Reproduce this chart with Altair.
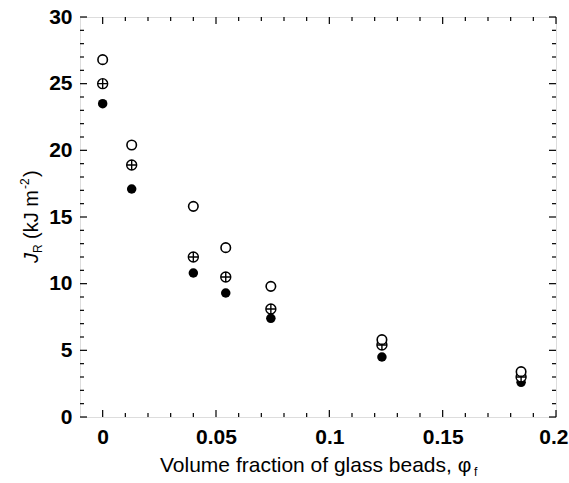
import altair as alt
import pandas as pd

# ---- data ----
phi = [0.0, 0.0128, 0.040, 0.0543, 0.0742, 0.1232, 0.1846]
j_open = [26.8, 20.4, 15.8, 12.7, 9.8, 5.8, 3.4]
j_cross = [25.0, 18.9, 12.0, 10.5, 8.1, 5.4, 3.0]
j_filled = [23.5, 17.1, 10.8, 9.3, 7.4, 4.5, 2.6]

x_major = [0.0, 0.05, 0.1, 0.15, 0.2]
x_minor = [0.01, 0.02, 0.03, 0.04, 0.06, 0.07, 0.08, 0.09, 0.11, 0.12,
           0.13, 0.14, 0.16, 0.17, 0.18, 0.19]
y_major = [0, 5, 10, 15, 20, 25, 30]
y_minor = [1, 2, 3, 4, 6, 7, 8, 9, 11, 12, 13, 14, 16, 17, 18, 19,
           21, 22, 23, 24, 26, 27, 28, 29]

W, H = 476, 400
FONT = "Liberation Sans"
MAJ, MIN = 7, 4

xs = alt.Scale(domain=[-0.01, 0.2], nice=False, zero=False)
ys = alt.Scale(domain=[0, 30], nice=False, zero=False)

x_axis = alt.Axis(values=x_major, format="~g", title=None, ticks=False, domain=False,
                  grid=False, labelFont=FONT, labelFontSize=21, labelFontWeight="bold",
                  labelColor="black", labelPadding=9, labelFlush=True, labelFlushOffset=12)
y_axis = alt.Axis(values=y_major, format="~g", title=None, ticks=False, domain=False,
                  grid=False, labelFont=FONT, labelFontSize=21, labelFontWeight="bold",
                  labelColor="black", labelPadding=8)

def X(field):
    return alt.X(field, type="quantitative", scale=xs, axis=x_axis, title=None)

def Y(field):
    return alt.Y(field, type="quantitative", scale=ys, axis=y_axis, title=None)

df = pd.DataFrame({"phi": phi, "open": j_open, "cross": j_cross, "filled": j_filled})

filled = alt.Chart(df).mark_point(shape="circle", filled=True, color="black", size=90, opacity=1).encode(
    x=X("phi"), y=Y("filled"))

cross_path = "M-1,0A1,1,0,1,1,1,0A1,1,0,1,1,-1,0ZM-1,0L1,0M0,-1L0,1"
cross = alt.Chart(df).mark_point(shape=cross_path, filled=False, fill="white", fillOpacity=1,
                                 stroke="black", strokeWidth=1.4, size=100, opacity=1).encode(
    x=X("phi"), y=Y("cross"))

opn = alt.Chart(df).mark_point(shape="circle", filled=False, fill="white", fillOpacity=1,
                               stroke="black", strokeWidth=1.6, size=90, opacity=1).encode(
    x=X("phi"), y=Y("open"))

def xticks(vals, L):
    d = pd.DataFrame({"phi": vals})
    bot = alt.Chart(d).mark_rule(color="black", strokeWidth=1.2).encode(
        x=X("phi"), y=alt.value(H), y2=alt.value(H - L))
    top = alt.Chart(d).mark_rule(color="black", strokeWidth=1.2).encode(
        x=X("phi"), y=alt.value(0), y2=alt.value(L))
    return [bot, top]

def yticks(vals, L):
    d = pd.DataFrame({"J": vals})
    lef = alt.Chart(d).mark_rule(color="black", strokeWidth=1.2).encode(
        y=Y("J"), x=alt.value(0), x2=alt.value(L))
    rig = alt.Chart(d).mark_rule(color="black", strokeWidth=1.2).encode(
        y=Y("J"), x=alt.value(W), x2=alt.value(W - L))
    return [lef, rig]

ticks = xticks(x_major, MAJ) + xticks(x_minor, MIN) + yticks(y_major, MAJ) + yticks(y_minor, MIN)

one = pd.DataFrame({"a": [0]})

def txt(s, x, y, size, angle=0, align="left", style="normal"):
    kw = dict(font=FONT, fontSize=size, align=align, baseline="alphabetic",
              color="black", fontStyle=style)
    if angle:
        kw["angle"] = angle
    return alt.Chart(one).mark_text(**kw).encode(
        x=alt.value(x), y=alt.value(y), text=alt.value(s))

# y-axis title: J_R (kJ m^-2), rotated
YX = -42
ytitle = [
    txt("J", YX, 246, 20, 270, style="italic"),
    txt("R", YX + 4, 236, 12, 270),
    txt("(kJ m", YX, 222, 20, 270),
    txt("-2", YX - 9, 172, 12, 270),
    txt(")", YX, 160, 20, 270),
]

# x-axis title: Volume fraction of glass beads, phi_f
xtitle = [
    txt("Volume fraction of glass beads, \u03c6", 80, 455, 21),
    txt("f", 394, 459, 12),
]

chart = alt.layer(filled, cross, opn, *ticks, *ytitle, *xtitle).properties(
    width=W, height=H,
    padding={"left": 80, "top": 17, "right": 13, "bottom": 66},
    autosize=alt.AutoSizeParams(type="none"),
).configure_view(stroke="black", strokeWidth=1.5).configure(background="white")

chart.save("out.html", embed_options={"renderer": "svg", "actions": False})
